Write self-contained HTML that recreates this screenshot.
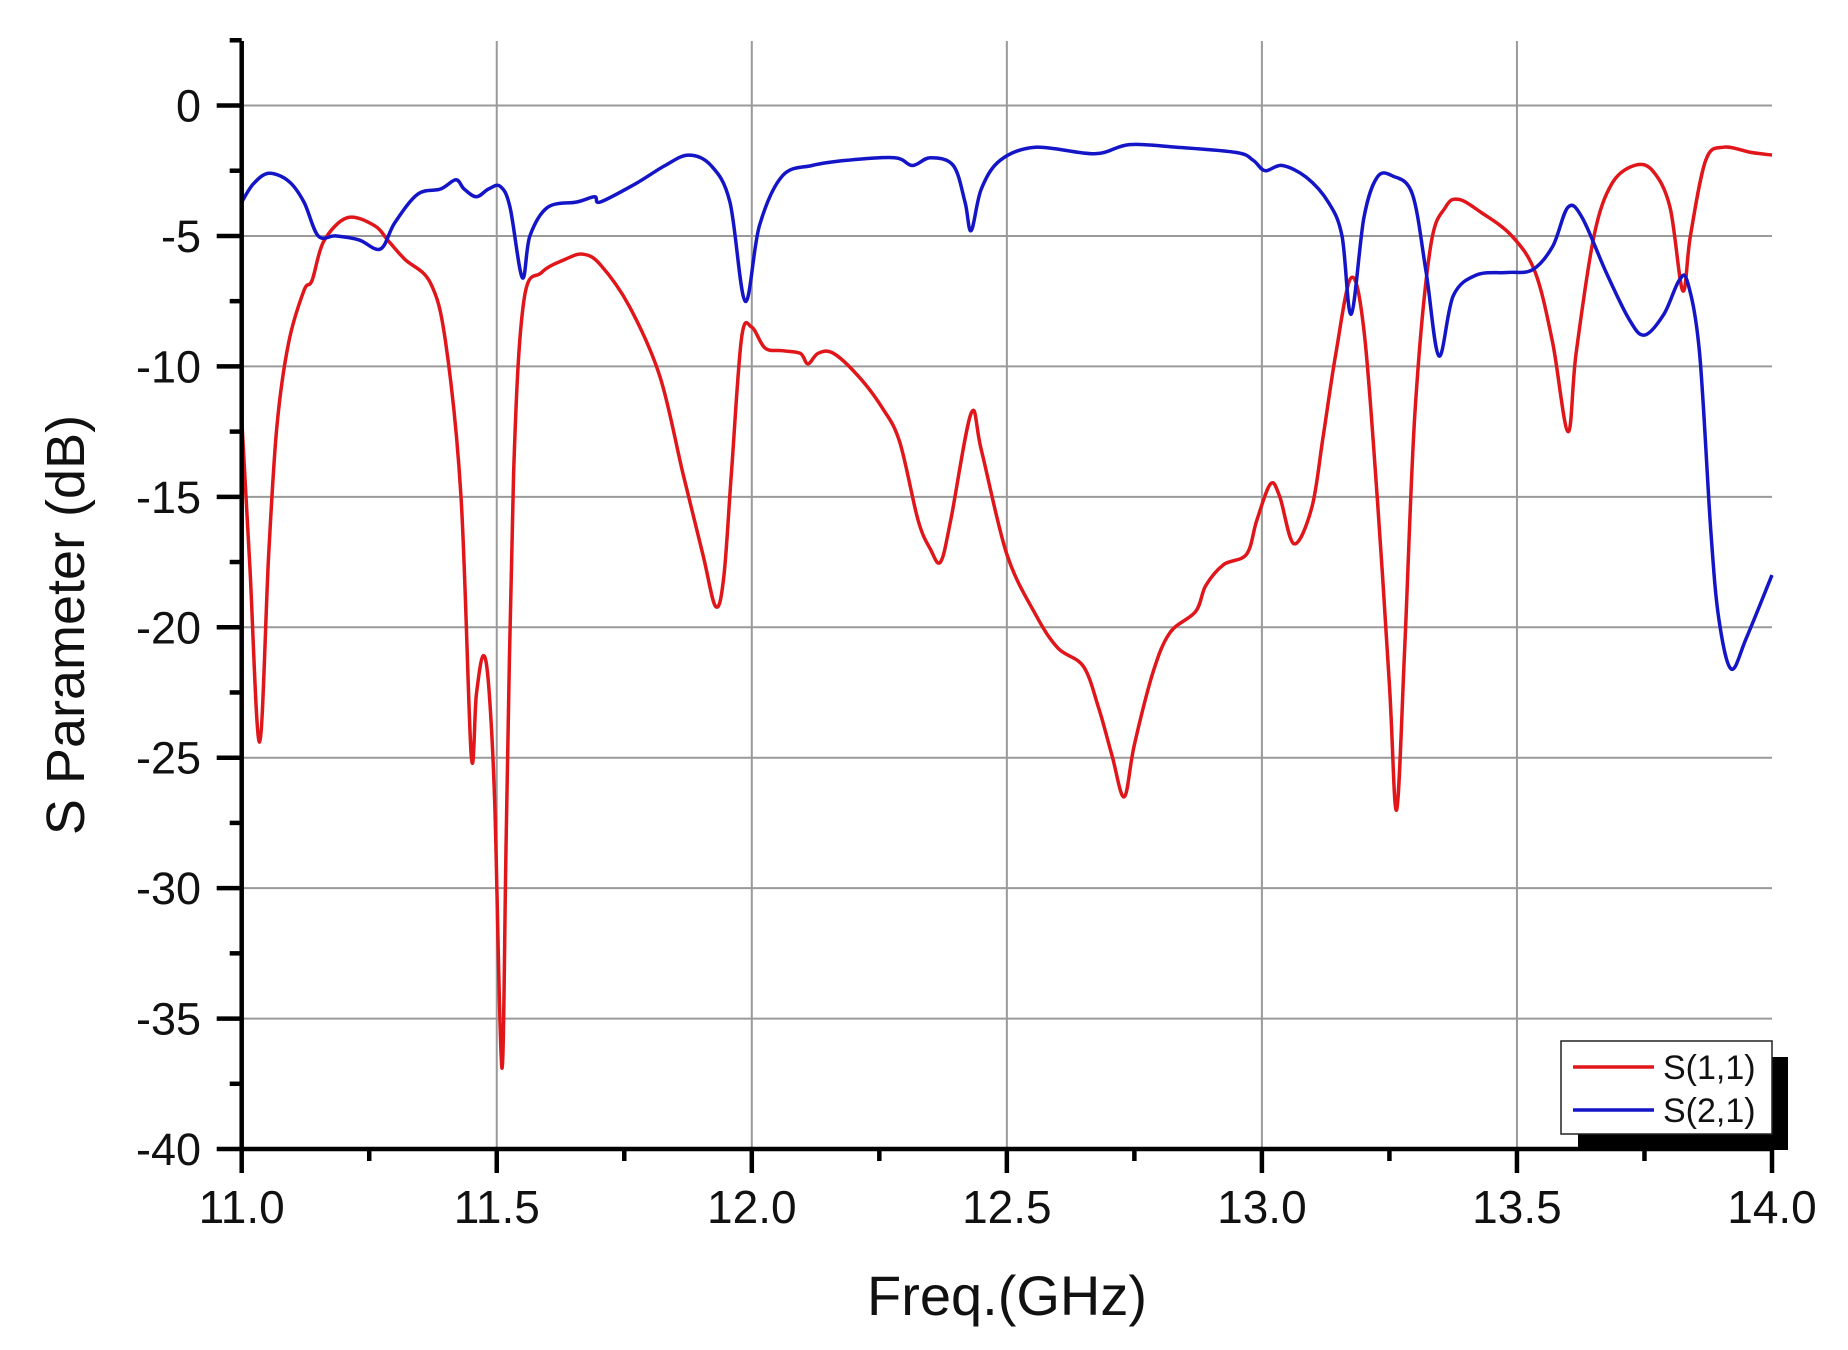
<!DOCTYPE html>
<html><head><meta charset="utf-8"><style>
html,body{margin:0;padding:0;background:#fff}
svg{display:block}
text{font-family:"Liberation Sans",Arial,sans-serif;fill:#111}
</style></head><body>
<svg id="chart" width="1848" height="1350" viewBox="0 0 1848 1350" xmlns="http://www.w3.org/2000/svg">
<g id="grid"></g>
<g id="series"></g>
<g id="axes"></g>
<text x="0" y="0" font-size="54" text-anchor="middle" transform="translate(84,625) rotate(-90)">S Parameter (dB)</text>
<text x="1007" y="1315" font-size="56" text-anchor="middle">Freq.(GHz)</text>
<g>
<rect x="1578" y="1057" width="210" height="93" fill="#000"/>
<rect x="1561" y="1041" width="211" height="93" fill="#fff" stroke="#222" stroke-width="1.5"/>
<line x1="1573" y1="1067" x2="1654" y2="1067" stroke="#e0161a" stroke-width="3.5"/>
<text x="1663" y="1079" font-size="34">S(1,1)</text>
<line x1="1573" y1="1110" x2="1654" y2="1110" stroke="#1515c8" stroke-width="3.5"/>
<text x="1663" y="1122" font-size="34">S(2,1)</text>
</g>
</svg>
<script>
const xTicks = [11.0, 11.5, 12.0, 12.5, 13.0, 13.5, 14.0];
const xTickLabels = ["11.0","11.5","12.0","12.5","13.0","13.5","14.0"];
const yTicks = [0, -5, -10, -15, -20, -25, -30, -35, -40];
const yTickLabels = ["0","-5","-10","-15","-20","-25","-30","-35","-40"];
const s11Freq = [11.0,11.016,11.035,11.053,11.069,11.092,11.122,11.138,11.161,11.207,11.26,11.288,11.32,11.37,11.40,11.43,11.45,11.46,11.473,11.484,11.496,11.51,11.519,11.533,11.553,11.588,11.634,11.669,11.703,11.76,11.82,11.865,11.904,11.929,11.945,11.96,11.98,12.0,12.026,12.06,12.095,12.11,12.13,12.16,12.21,12.256,12.29,12.326,12.35,12.37,12.39,12.43,12.45,12.5,12.556,12.6,12.65,12.68,12.706,12.73,12.75,12.787,12.82,12.87,12.89,12.925,12.97,12.99,13.017,13.035,13.063,13.098,13.12,13.145,13.175,13.2,13.226,13.25,13.264,13.28,13.3,13.33,13.36,13.386,13.43,13.49,13.536,13.57,13.6,13.616,13.651,13.686,13.73,13.766,13.8,13.825,13.84,13.87,13.905,13.96,14.0];
const s11dB = [-12.0,-17.7,-24.4,-17.2,-12.3,-9.1,-7.1,-6.7,-5.2,-4.3,-4.6,-5.2,-5.9,-6.8,-9.1,-15,-24.9,-22.6,-21.1,-22.2,-26.7,-36.9,-27.6,-14.1,-7.5,-6.4,-5.9,-5.7,-6.1,-7.7,-10.4,-14.1,-17.2,-19.2,-18.1,-14.1,-8.9,-8.5,-9.3,-9.4,-9.5,-9.9,-9.5,-9.5,-10.4,-11.6,-12.9,-15.9,-17,-17.5,-15.9,-11.8,-13.2,-17.2,-19.5,-20.8,-21.5,-23.1,-24.9,-26.5,-24.5,-21.7,-20.2,-19.4,-18.4,-17.6,-17.2,-15.9,-14.5,-15,-16.8,-15.4,-12.7,-9.5,-6.6,-8.6,-15,-22.2,-27,-20.8,-11.8,-5.5,-3.9,-3.6,-4.1,-5,-6.4,-9.1,-12.5,-9.5,-5,-3,-2.3,-2.5,-3.9,-7.1,-5,-2.1,-1.6,-1.8,-1.9];
const s21Freq = [11.0,11.023,11.053,11.092,11.122,11.15,11.184,11.23,11.272,11.3,11.345,11.39,11.42,11.436,11.46,11.484,11.507,11.526,11.55,11.565,11.6,11.657,11.692,11.703,11.772,11.83,11.876,11.92,11.957,11.987,12.015,12.06,12.118,12.187,12.28,12.315,12.35,12.395,12.418,12.43,12.45,12.487,12.556,12.672,12.74,12.833,12.95,12.983,13.006,13.04,13.087,13.13,13.157,13.175,13.2,13.226,13.256,13.295,13.322,13.347,13.375,13.42,13.48,13.53,13.57,13.6,13.628,13.675,13.72,13.75,13.788,13.818,13.835,13.858,13.88,13.896,13.92,13.95,14.0];
const s21dB = [-3.7,-3,-2.6,-2.9,-3.7,-5,-5,-5.15,-5.5,-4.5,-3.4,-3.2,-2.85,-3.2,-3.5,-3.2,-3.1,-3.9,-6.6,-5,-3.9,-3.7,-3.5,-3.7,-3,-2.3,-1.9,-2.3,-3.7,-7.5,-4.6,-2.7,-2.3,-2.1,-2,-2.3,-2,-2.3,-3.7,-4.8,-3.2,-2.1,-1.6,-1.85,-1.5,-1.6,-1.8,-2.1,-2.5,-2.3,-2.75,-3.7,-5,-8,-4.3,-2.75,-2.7,-3.4,-6.4,-9.6,-7.3,-6.5,-6.4,-6.3,-5.4,-3.9,-4.3,-6.4,-8.2,-8.8,-8,-6.7,-6.8,-9.5,-16.3,-19.7,-21.6,-20.4,-18];

const NS='http://www.w3.org/2000/svg';
const X0=241.7, X1=1772, Y0=105.5, Y1=1149, TOP=41;
function xs(f){return X0+(f-11)/(14-11)*(X1-X0);}
function ys(d){return Y0+(0-d)/40*(Y1-Y0);}
function mk(tag,attrs,parent){const e=document.createElementNS(NS,tag);for(const k in attrs)e.setAttribute(k,attrs[k]);parent.appendChild(e);return e;}
const grid=document.getElementById('grid'), axes=document.getElementById('axes'), series=document.getElementById('series');

xTicks.forEach((t,i)=>{
  if(i>0&&i<xTicks.length-1){
    const g=mk('line',{x1:xs(t),x2:xs(t),y1:TOP,y2:Y1,stroke:'#9a9a9a','stroke-width':2},grid);
    
    
  }
  const tk=mk('line',{x1:xs(t),x2:xs(t),y1:Y1,y2:Y1+24,stroke:'#000','stroke-width':4.5},axes);
  
  
  const lb=mk('text',{x:xs(t),y:1223,'font-size':46,'text-anchor':'middle'},axes);
  lb.textContent=xTickLabels[i];
  
  
  if(i<xTicks.length-1){
    const m=mk('line',{x1:xs(t+0.25),x2:xs(t+0.25),y1:Y1,y2:Y1+12,stroke:'#000','stroke-width':4.5},axes);
    
    
  }
});
yTicks.forEach((t,i)=>{
  if(i<yTicks.length-1){
    const g=mk('line',{x1:X0,x2:X1,y1:ys(t),y2:ys(t),stroke:'#9a9a9a','stroke-width':2},grid);
    
    
  }
  const tk=mk('line',{x1:X0-25,x2:X0,y1:ys(t),y2:ys(t),stroke:'#000','stroke-width':4.5},axes);
  
  
  const lb=mk('text',{x:201,y:ys(t)+16,'font-size':45,'text-anchor':'end'},axes);
  lb.textContent=yTickLabels[i];
  
  
  const m=mk('line',{x1:X0-12,x2:X0,y1:ys(t+2.5),y2:ys(t+2.5),stroke:'#000','stroke-width':4.5},axes);
  
  
});
const m2=mk('line',{x1:X0-12,x2:X0,y1:ys(5),y2:ys(5),stroke:'#000','stroke-width':4.5},axes);


const ya=mk('line',{x1:X0,x2:X0,y1:TOP,y2:Y1+2,stroke:'#000','stroke-width':4.5},axes);


const xa=mk('line',{x1:X0-2,x2:X1,y1:Y1,y2:Y1,stroke:'#000','stroke-width':4.5},axes);



function path(fr,db){
  const p=fr.map((f,i)=>[xs(f),ys(db[i])]);
  let d='M'+p[0][0].toFixed(1)+','+p[0][1].toFixed(1);
  for(let i=0;i<p.length-1;i++){
    const a=p[i-1]||p[i],b=p[i],c=p[i+1],e=p[i+2]||c;
    const c1=[b[0]+(c[0]-a[0])/6,b[1]+(c[1]-a[1])/6],c2=[c[0]-(e[0]-b[0])/6,c[1]-(e[1]-b[1])/6];
    d+='C'+c1[0].toFixed(1)+','+c1[1].toFixed(1)+' '+c2[0].toFixed(1)+','+c2[1].toFixed(1)+' '+c[0].toFixed(1)+','+c[1].toFixed(1);
  }
  return d;
}
const l1=mk('path',{d:path(s11Freq,s11dB),fill:'none',stroke:'#e0161a','stroke-width':3.5,'stroke-linejoin':'round'},series);


const l2=mk('path',{d:path(s21Freq,s21dB),fill:'none',stroke:'#1515c8','stroke-width':3.5,'stroke-linejoin':'round'},series);


</script>
</body></html>
